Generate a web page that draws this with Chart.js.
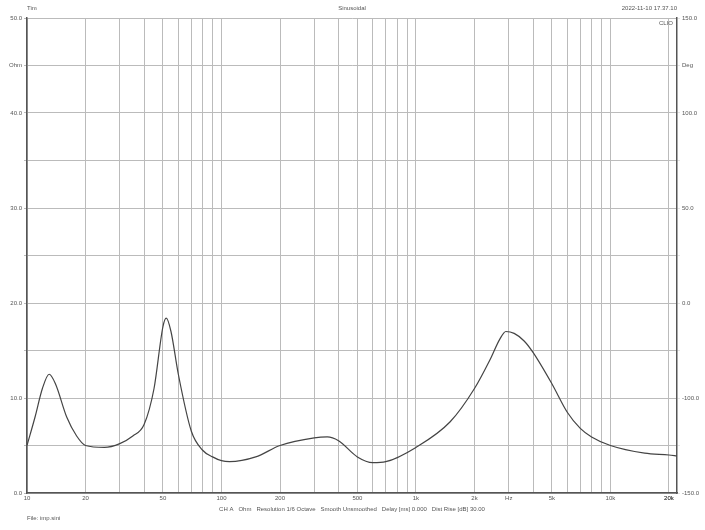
<!DOCTYPE html>
<html><head><script src="https://cdn.jsdelivr.net/npm/chart.js@4"></script>
<style>body{margin:0;background:#fff}</style></head><body>
<canvas id="c" width="705" height="530"></canvas>
<script>
const freqs=[10,11,12,13,14,16,18,20,25,30,35,40,45,50,52,55,60,70,80,90,100,110,150,200,300,350,400,500,600,700,1000,1500,2000,2400,2700,2900,3200,3600,4000,5000,6000,7000,8000,10000,15000,20000,22000];
const ohms=[5.0,8.0,11.0,12.5,11.5,8.0,6.0,5.0,4.8,5.2,6.0,7.2,11.0,17.5,18.4,17.0,12.5,6.5,4.5,3.8,3.4,3.3,3.8,5.0,5.8,5.9,5.5,3.8,3.2,3.3,4.8,7.5,11.0,14.0,16.2,17.0,16.8,16.0,14.8,11.5,8.5,6.8,5.9,5.0,4.2,4.0,3.9];
const xLabels={10:'10',20:'20',50:'50',100:'100',200:'200',500:'500',1000:'1k',2000:'2k',3000:'Hz',5000:'5k',10000:'10k',20000:'20k'};
const leftLabels={50:'50.0',45:'Ohm',40:'40.0',30:'30.0',20:'20.0',10:'10.0',0:'0.0'};
const rightLabels={50:'150.0',45:'Deg',40:'100.0',30:'50.0',20:'0.0',10:'-100.0',0:'-150.0'};
const gridTicks=[];for(let d=10;d<=10000;d*=10)for(let m=1;m<=9;m++){if(d*m<=22000)gridTicks.push(d*m);}gridTicks.push(20000);
const txt={id:'txt',afterDraw(c){const x=c.ctx;x.save();x.font='6px Arial';x.fillStyle='#555';
x.textAlign='left';x.fillText('Tim',27,10);x.fillText('File: imp.sini',27,520);
x.textAlign='center';x.fillText('Sinusoidal',352,10);x.fillText('CH A   Ohm   Resolution 1/6 Octave   Smooth Unsmoothed   Delay [ms] 0.000   Dist Rise [dB] 30.00',352,511);
x.textAlign='right';x.fillText('2022-11-10 17.37.10',677,10);x.fillText('CLIO',673,25);x.restore();}};
new Chart(document.getElementById('c'),{type:'line',
data:{labels:freqs,datasets:[{data:freqs.map((f,i)=>({x:f,y:ohms[i]})),borderColor:'#444',borderWidth:1.2,pointRadius:0,cubicInterpolationMode:'monotone',fill:false}]},
options:{responsive:false,animation:false,plugins:{legend:{display:false},tooltip:{enabled:false}},
layout:{padding:{top:18,left:0,right:0,bottom:27}},
scales:{
x:{type:'logarithmic',min:10,max:22000,afterBuildTicks(a){a.ticks=gridTicks.map(v=>({value:v}));},afterFit(a){a.height=10;},
 ticks:{autoSkip:false,maxRotation:0,font:{size:6},color:'#555',padding:2,callback:v=>xLabels[v]||''},
 grid:{color:'#bbb',lineWidth:1,tickLength:0},border:{color:'#555',width:1.5}},
y:{min:0,max:50,afterBuildTicks(a){a.ticks=[0,5,10,15,20,25,30,35,40,45,50].map(v=>({value:v}));},afterFit(a){a.width=27;},
 ticks:{font:{size:6},color:'#555',padding:2,callback:v=>leftLabels[v]||''},grid:{color:'#bbb',tickLength:3},border:{color:'#555',width:1.5}},
y2:{position:'right',min:0,max:50,afterBuildTicks(a){a.ticks=[0,5,10,15,20,25,30,35,40,45,50].map(v=>({value:v}));},afterFit(a){a.width=28;},
 ticks:{font:{size:6},color:'#555',padding:2,callback:v=>rightLabels[v]||''},grid:{drawOnChartArea:false,tickLength:3},border:{color:'#555',width:1.5}}
}},plugins:[txt]});
</script></body></html>
